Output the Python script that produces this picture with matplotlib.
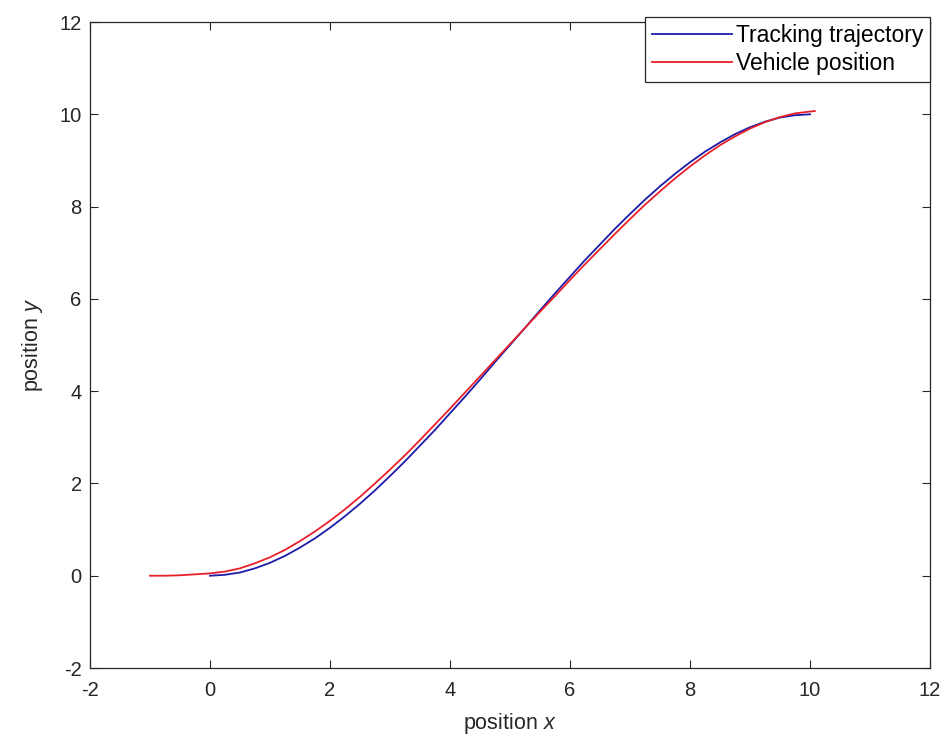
import numpy as np
import matplotlib
matplotlib.use('Agg')
import matplotlib.pyplot as plt

plt.rcParams['font.family'] = ['Liberation Sans', 'DejaVu Sans']
plt.rcParams['mathtext.fontset'] = 'custom'
plt.rcParams['mathtext.rm'] = 'Liberation Sans'
plt.rcParams['mathtext.it'] = 'Liberation Sans:italic'
plt.rcParams['axes.unicode_minus'] = False

# tracking trajectory
track_x = [0, 0.25, 0.5, 0.75, 1, 1.25, 1.5, 1.75, 2, 2.25, 2.5, 2.75, 3, 3.25,
           3.5, 3.75, 4, 4.25, 4.5, 4.75, 5, 5.25, 5.5, 5.75, 6, 6.25, 6.5,
           6.75, 7, 7.25, 7.5, 7.75, 8, 8.25, 8.5, 8.75, 9, 9.25, 9.5, 9.75, 10]
track_y = [0.0, 0.02, 0.07, 0.16, 0.28, 0.43, 0.61, 0.81, 1.04, 1.29, 1.56,
           1.85, 2.16, 2.48, 2.82, 3.16, 3.52, 3.88, 4.25, 4.63, 5.0, 5.37,
           5.75, 6.12, 6.48, 6.84, 7.18, 7.52, 7.84, 8.15, 8.44, 8.71, 8.96,
           9.19, 9.39, 9.57, 9.72, 9.84, 9.93, 9.98, 10.0]

# vehicle position
veh_x = [-1, -0.75, -0.5, -0.25, 0, 0.25, 0.5, 0.75, 1, 1.25, 1.5, 1.75, 2,
         2.25, 2.5, 2.75, 3, 3.25, 3.5, 3.75, 4, 4.25, 4.5, 4.75, 5, 5.25,
         5.5, 5.75, 6, 6.25, 6.5, 6.75, 7, 7.25, 7.5, 7.75, 8, 8.25, 8.5,
         8.75, 9, 9.25, 9.5, 9.75, 10, 10.08]
veh_y = [0.0, 0.0, 0.01, 0.03, 0.05, 0.09, 0.16, 0.27, 0.40, 0.56, 0.75, 0.96,
         1.19, 1.44, 1.71, 2.00, 2.30, 2.61, 2.94, 3.28, 3.62, 3.97, 4.32,
         4.67, 5.02, 5.37, 5.72, 6.06, 6.41, 6.75, 7.08, 7.41, 7.73, 8.04,
         8.33, 8.61, 8.87, 9.11, 9.33, 9.52, 9.69, 9.83, 9.94, 10.02, 10.06,
         10.07]

ticks = [-2, 0, 2, 4, 6, 8, 10, 12]
txt = '#262626'

fig = plt.figure(figsize=(9.49, 7.51), dpi=100)
ax = fig.add_axes([0.0948, 0.1105, 0.8852, 0.8602])

ax.plot(track_x, track_y, color='#1c1ca8', lw=1.3, label='Tracking trajectory')
ax.plot(veh_x, veh_y, color='#e8202a', lw=1.3, label='Vehicle position')

ax.set_xlim(-2, 12)
ax.set_ylim(-2, 12)
ax.set_xticks(ticks)
ax.set_yticks(ticks)
ax.tick_params(direction='in', length=6, width=0.8, top=True, right=True,
               labelsize=14.5, colors=txt, pad=6)
ax.tick_params(axis='x', pad=9)
for s in ax.spines.values():
    s.set_color(txt)
    s.set_linewidth(0.9)

ax.set_xlabel('position $\\mathit{x}$', fontsize=15.5, color=txt, labelpad=8)
ax.set_ylabel('position $\\mathit{y}$', fontsize=15.5, color=txt, labelpad=10)

leg = ax.legend(loc='upper right', bbox_to_anchor=(1.0, 1.008),
                borderaxespad=0, fancybox=False,
                edgecolor=txt, framealpha=1, fontsize=16.5,
                handlelength=3.5, handletextpad=0.15, borderpad=0.3,
                labelspacing=0.25)
leg.get_frame().set_linewidth(0.9)

plt.savefig('out.png', dpi=100)
